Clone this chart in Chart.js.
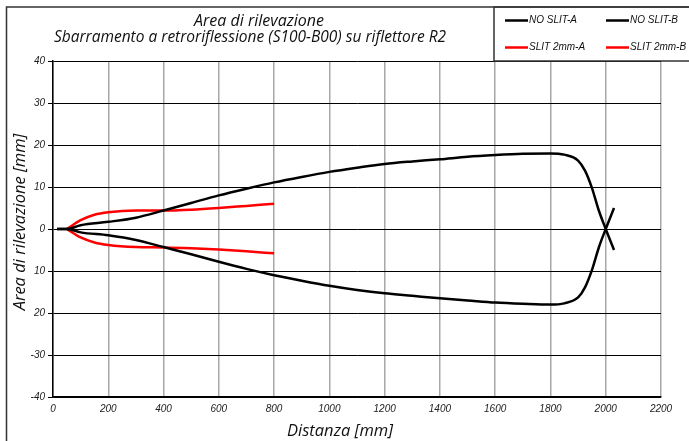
<!DOCTYPE html>
<html>
<head>
<meta charset="utf-8">
<script src="https://cdn.jsdelivr.net/npm/chart.js@4"></script>
<style>
  html, body { margin: 0; padding: 0; background: #fff; }
  #wrap { width: 689px; height: 441px; }
</style>
</head>
<body>
<div id="wrap"><canvas id="myChart" width="689" height="441"></canvas></div>
<script>
// Dati
var distNoSlit = [15, 50, 100, 200, 300, 400, 500, 600, 700, 800, 900, 1000, 1100, 1200, 1300, 1400, 1500, 1600, 1700, 1800, 1850, 1900, 1925, 1950, 1975, 2000, 2030]
var noSlitA = [0, 0, 0.9, 1.7, 2.7, 4.4, 6.2, 8.0, 9.6, 11.1, 12.4, 13.6, 14.6, 15.5, 16.1, 16.6, 17.2, 17.6, 17.9, 18.0, 17.7, 16.3, 13.9, 9.8, 4.4, 0, -5]
var noSlitB = [0, 0, -0.8, -1.5, -2.6, -4.3, -6.0, -7.8, -9.5, -11.0, -12.3, -13.5, -14.5, -15.3, -15.9, -16.5, -17.0, -17.5, -17.8, -18.0, -17.7, -16.3, -13.9, -9.8, -4.4, 0, 5]
var distSlit = [50, 100, 150, 200, 300, 400, 500, 600, 700, 800]
var slitA = [0, 2.1, 3.4, 4.0, 4.4, 4.4, 4.6, 5.0, 5.5, 6.0]
var slitB = [0, -2.0, -3.2, -3.8, -4.3, -4.4, -4.6, -4.9, -5.3, -5.8]

var seriesNames = ['NO SLIT-A', 'NO SLIT-B', 'SLIT 2mm-A', 'SLIT 2mm-B']
var xTicks = [0, 200, 400, 600, 800, 1000, 1200, 1400, 1600, 1800, 2000, 2200]
var yTicks = [-40, -30, -20, -10, 0, 10, 20, 30, 40]
var yTickLabels = ['-40', '-30', '20', '10', '0', '10', '20', '30', '40']
var titleLines = ['Area di rilevazione', 'Sbarramento a retroriflessione (S100-B00) su riflettore R2']
var xTitle = 'Distanza [mm]'
var yTitle = 'Area di rilevazione [mm]'

function pts(xs, ys) {
    return xs.map((x, i) => ({x: x, y: ys[i]}))
}

function ds(label, xs, ys, color) {
    return {
        label: label,
        data: pts(xs, ys),
        borderColor: color,
        backgroundColor: color,
        borderWidth: 2.5,
        pointRadius: 0,
        showLine: true,
        cubicInterpolationMode: 'monotone',
        fill: false
    }
}

var tickFont = {family: 'Liberation Sans', size: 10, style: 'italic'}

// cornice, titoli e legenda disegnati a mano
var decor = {
    id: 'decor',
    beforeDraw(chart) {
        var c = chart.ctx
        c.save()
        c.fillStyle = '#fff'
        c.fillRect(0, 0, chart.width, chart.height)
        c.restore()
    },
    afterDraw(chart) {
        var c = chart.ctx
        c.save()
        c.strokeStyle = '#333'
        c.lineWidth = 1.5
        c.strokeRect(6.5, 7, 720, 480)
        c.strokeRect(494, 7, 220, 54)

        c.fillStyle = '#111'
        c.textAlign = 'center'
        c.textBaseline = 'middle'
        c.font = 'italic 16px "Open Sans"'
        c.fillText(titleLines[0], 259, 21)
        c.font = 'italic 15.5px "Open Sans"'
        c.fillText(titleLines[1], 250, 38)

        c.font = 'italic 16.5px "Open Sans"'
        c.fillText(xTitle, 340, 431)
        c.save()
        c.translate(20, 222)
        c.rotate(-Math.PI / 2)
        c.fillText(yTitle, 0, 0)
        c.restore()

        var pos = [[505, 20.5], [606, 20.5], [505, 47.5], [606, 47.5]]
        c.font = 'italic 10px "Liberation Sans"'
        c.textAlign = 'left'
        chart.data.datasets.forEach((d, i) => {
            var p = pos[i]
            c.strokeStyle = d.borderColor
            c.lineWidth = 2.5
            c.beginPath()
            c.moveTo(p[0], p[1])
            c.lineTo(p[0] + 23, p[1])
            c.stroke()
            c.fillStyle = '#111'
            c.fillText(d.label, p[0] + 24, p[1])
        })
        c.restore()
    }
}

var ctx = document.getElementById('myChart').getContext('2d')
var myChart = new Chart(ctx, {
    type: 'scatter',
    data: {
        datasets: [
            ds(seriesNames[0], distNoSlit, noSlitA, '#000000'),
            ds(seriesNames[1], distNoSlit, noSlitB, '#000000'),
            ds(seriesNames[2], distSlit, slitA, '#ff0000'),
            ds(seriesNames[3], distSlit, slitB, '#ff0000')
        ]
    },
    options: {
        responsive: false,
        animation: false,
        layout: {padding: {left: 6, top: 61, right: 28, bottom: 0}},
        plugins: {
            legend: {display: false},
            title: {display: false},
            tooltip: {enabled: false}
        },
        scales: {
            x: {
                type: 'linear',
                min: 0,
                max: 2200,
                afterBuildTicks: s => { s.ticks = xTicks.map(v => ({value: v})) },
                afterFit: s => { s.height = 44 },
                grid: {color: '#a8a8a8', lineWidth: 1.5, drawTicks: false},
                border: {color: '#000', width: 1.5},
                ticks: {
                    font: tickFont, color: '#222', padding: 6,
                    maxRotation: 0, autoSkip: false,
                    callback: v => String(v)
                }
            },
            y: {
                min: -40,
                max: 40,
                afterBuildTicks: s => { s.ticks = yTicks.map(v => ({value: v})) },
                afterFit: s => { s.width = 47 },
                grid: {color: '#000', lineWidth: 1, tickLength: 5},
                border: {color: '#000', width: 1.5},
                ticks: {
                    font: tickFont, color: '#222', padding: 3,
                    callback: v => yTickLabels[yTicks.indexOf(v)]
                }
            }
        }
    },
    plugins: [decor]
})
</script>
</body>
</html>
